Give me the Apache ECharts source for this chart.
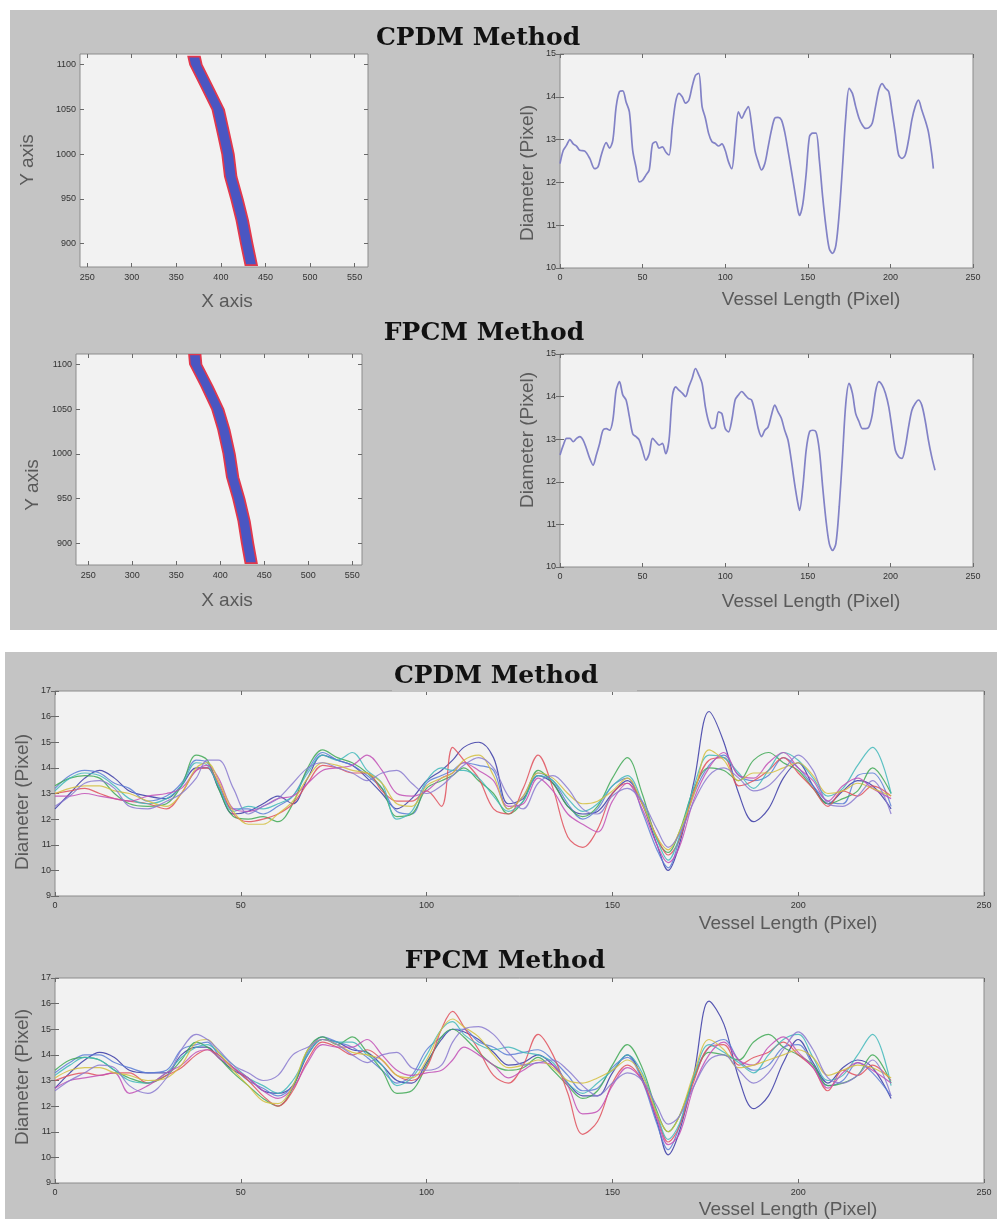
<!DOCTYPE html>
<html>
<head>
<meta charset="utf-8">
<script src="https://cdn.jsdelivr.net/npm/echarts@6/dist/echarts.min.js"></script>
<style>
  html, body { margin: 0; padding: 0; background: #ffffff; }
  #wrap { position: relative; width: 999px; height: 1219px; overflow: hidden; }
  .panel { position: absolute; background: #c4c4c4; }
  #chart { position: absolute; left: 0; top: 0; width: 999px; height: 1219px; }
</style>
</head>
<body>
<div id="wrap">
  <div class="panel" style="left:10px; top:10px; width:987px; height:620px;"></div>
  <div class="panel" style="left:5px; top:652px; width:992px; height:567px;"></div>
  <div id="chart"></div>
</div>
<script>
// ---------- vessel centre-lines (image coordinates) ----------
const cpdmVesselY = [1109, 1100, 1076, 1050, 1023, 1000, 975, 950, 926, 900, 876];
const cpdmVesselX = [370, 372, 384, 397, 403, 408, 411, 418, 424, 429, 434];
const fpcmVesselY = [1111, 1100, 1075, 1050, 1027, 1000, 974, 950, 925, 900, 878];
const fpcmVesselX = [371, 372, 385, 397, 404, 410, 414, 421, 427, 431, 435];
const vesselDiameter = 13;

// ---------- tick values ----------
const vesselXTicks = [250, 300, 350, 400, 450, 500, 550];
const vesselYTicks = [900, 950, 1000, 1050, 1100];
const lengthTicks = [0, 50, 100, 150, 200, 250];
const diaTicksSingle = [10, 11, 12, 13, 14, 15];
const diaTicksMulti = [9, 10, 11, 12, 13, 14, 15, 16, 17];

// ---------- single diameter profiles ----------
const cpdmLen = [0,2,4,6,8,10,12,15,18,21,23,25,28,30,32,34,36,38,40,42,44,46,48,50,52,54,56,58,60,62,64,66,68,70,72,74,76,78,80,82,84,86,88,90,92,94,96,98,100,102,104,106,108,110,112,114,116,118,120,122,124,126,128,130,132,134,136,138,140,142,144,145,147,149,151,153,155,157,159,161,163,165,167,169,171,173,175,177,179,181,183,185,187,189,191,193,195,197,199,201,203,205,207,209,211,213,215,217,219,221,223,225,226];
const cpdmDia = [12.44,12.75,12.87,13.0,12.9,12.85,12.75,12.73,12.56,12.32,12.36,12.64,12.93,12.8,
  12.99,13.77,14.12,14.14,13.88,13.65,12.75,12.36,12.01,12.05,12.17,12.29,12.9,12.95,12.8,12.83,12.71,12.64,13.3,13.88,14.08,14.0,13.85,13.92,14.24,14.5,14.55,13.77,13.5,13.14,12.95,12.91,12.85,12.9,12.75,12.48,12.32,12.99,13.65,13.5,13.65,13.77,13.34,12.75,12.48,12.29,12.44,12.83,13.22,13.5,13.52,13.46,13.18,12.75,12.29,11.82,11.35,
  11.23,
  11.5,12.2,13.07,13.15,13.15,12.52,11.66,10.96,10.45,10.34,10.53,11.27,12.36,13.53,14.2,14.08,13.77,13.5,13.34,13.26,13.28,13.38,13.77,14.16,14.31,14.2,14.12,13.65,13.14,12.64,12.56,12.64,12.99,13.46,13.77,13.92,13.69,13.46,13.18,12.67,
  12.32];

const fpcmLen = [0,2,4,6,8,10,12,14,16,18,20,22,24,26,28,30,32,34,36,38,40,42,44,46,48,50,52,54,56,58,60,62,64,66,68,70,72,74,76,78,80,82,84,86,88,90,92,94,96,98,100,102,104,106,108,110,112,114,116,118,120,122,124,126,128,130,132,134,136,138,140,142,144,145,147,149,151,153,155,157,159,161,163,165,167,169,171,173,175,177,179,181,183,185,187,189,191,193,195,197,199,201,203,205,207,209,211,213,215,217,219,221,223,225,227];
const fpcmDia = [12.63,12.86,13.02,13.02,12.94,13.02,13.06,12.98,12.78,12.55,12.39,12.63,12.9,13.21,13.25,13.21,13.45,14.15,14.35,14.04,13.92,13.53,13.13,13.06,12.98,12.74,12.51,12.66,13.02,12.94,12.86,12.9,12.66,12.98,14.0,14.23,14.15,14.08,14.0,14.23,14.43,14.66,14.51,14.31,13.76,13.41,13.25,13.29,13.64,13.6,13.25,13.17,13.45,13.92,14.04,14.12,14.04,13.96,13.92,13.64,13.25,13.06,13.21,13.29,13.57,13.8,13.64,13.49,13.21,12.98,12.51,11.96,11.49,
  11.33,
  11.88,12.74,13.17,13.21,13.17,12.74,11.88,11.1,10.55,10.39,10.55,11.41,12.59,13.84,14.31,14.08,13.6,13.41,13.25,13.25,13.29,13.57,14.12,14.35,14.27,14.08,13.76,13.25,12.74,12.59,12.55,12.82,13.29,13.68,13.84,13.92,13.8,13.45,12.98,12.59,12.27];

// ---------- repeated measurements (8 runs per method) ----------
const multiLen = [0,4,8,12,16,20,25,30,34,38,41,44,48,52,56,60,64,68,72,76,80,84,88,92,96,100,104,107,110,114,118,122,126,130,134,138,142,146,150,154,158,162,165,168,172,176,180,184,188,192,196,200,204,208,212,216,220,225];

const cpdmRun1 = [12.4,13.0,13.6,13.9,13.6,13.1,12.9,12.8,13.3,14.0, 14.0,13.2,12.2,12.3,12.6,12.9,12.6,13.6,14.5,14.3, 14.1,13.6,13.0,12.4,12.8,13.5,13.9,14.3,14.8,15.0, 14.4,12.6,12.8,13.7,13.4,12.5,12.2,12.3,13.0,13.5, 12.6,11.0,10.0,11.0,13.5,16.2,15.0,13.0,11.9,12.4, 13.6,14.2,13.3,12.6,13.1,13.5,13.3,12.4];
const cpdmRun2 = [13.2,13.7,13.9,13.8,13.4,13.2,12.7,12.9,13.4,14.3, 14.2,13.3,12.4,12.4,12.2,12.5,12.9,13.9,14.6,14.3, 14.1,13.7,13.2,12.3,12.2,13.4,13.7,13.9,14.2,14.1, 13.9,12.4,12.9,13.8,13.5,12.6,12.0,12.4,13.3,13.6, 12.3,10.8,10.1,11.2,13.0,14.1,14.5,13.7,13.5,13.7, 14.4,14.0,13.3,12.7,12.6,13.7,13.8,12.5];
const cpdmRun3 = [13.3,13.6,13.7,13.6,13.0,12.6,12.5,12.6,13.3,14.5, 14.3,13.2,12.1,12.0,12.1,11.9,12.6,14.0,14.7,14.4, 14.2,13.8,13.2,12.1,12.2,13.2,13.5,13.7,14.0,13.5, 13.0,12.2,12.7,13.9,13.4,12.5,12.1,12.5,13.6,14.4, 13.0,11.2,10.7,11.5,13.2,14.0,13.9,13.5,14.3,14.6, 14.2,13.9,13.2,12.6,12.8,13.1,14.0,13.0];
const cpdmRun4 = [13.0,13.1,13.2,13.0,12.8,12.7,12.6,12.4,13.0,13.9, 14.0,13.4,12.2,11.9,12.0,12.2,12.6,13.4,14.1,14.0, 13.8,13.8,13.1,12.7,12.7,13.1,12.5,14.8,14.3,13.6, 12.4,12.2,13.2,14.5,13.2,11.3,10.9,11.6,13.0,13.4, 12.6,11.3,10.6,11.2,13.1,14.3,14.4,13.3,13.5,13.9, 14.4,13.8,13.2,12.5,13.1,12.9,13.3,12.9];
const cpdmRun5 = [13.1,13.6,13.8,13.7,13.3,12.8,12.6,12.8,13.3,14.2, 14.1,13.3,12.3,12.5,12.4,12.6,12.9,13.8,14.5,14.3, 14.6,13.9,13.4,12.0,12.3,13.5,14.0,13.9,13.9,13.6, 12.9,12.3,12.7,13.7,13.5,12.8,12.3,12.6,13.3,13.7, 12.7,11.2,10.4,11.3,13.3,14.5,14.4,13.8,13.2,13.9, 14.6,14.3,13.6,12.9,13.2,14.1,14.8,13.0];
const cpdmRun6 = [12.9,12.9,13.0,12.9,12.8,12.7,12.9,13.0,13.2,13.9, 14.1,13.6,12.4,12.3,12.5,12.8,12.9,13.4,13.9,14.0, 14.1,14.5,13.9,13.0,12.9,13.1,13.6,13.8,14.2,13.9, 13.5,12.5,12.6,13.6,13.1,12.2,11.8,11.5,12.7,13.4, 12.4,11.0,10.3,10.9,12.8,14.0,14.6,13.7,13.6,14.2, 14.6,14.0,13.5,12.7,13.3,13.6,13.2,12.8];
const cpdmRun7 = [13.0,13.2,13.3,13.3,13.1,13.0,12.7,12.5,13.0,14.0, 14.2,13.5,12.3,11.8,11.8,12.2,12.7,13.6,14.2,14.1, 13.9,13.8,13.4,12.6,12.5,13.3,13.6,13.8,14.3,14.5, 13.7,12.4,12.9,13.8,13.6,13.0,12.6,12.7,13.1,13.6, 12.6,11.3,10.8,11.5,13.0,14.7,14.3,13.5,13.8,13.8, 14.0,14.2,13.7,13.0,13.1,13.4,13.2,12.9];
const cpdmRun8 = [12.5,12.9,13.4,13.5,13.2,12.5,12.4,12.7,13.0,13.6, 14.3,14.3,13.2,12.2,12.5,12.8,13.4,14.0,14.2,14.0, 13.8,13.5,13.8,13.9,13.4,13.0,13.3,13.7,14.1,14.4, 14.0,12.9,12.4,13.4,13.7,13.2,12.4,12.2,12.9,13.2, 12.7,11.6,10.9,11.4,12.7,13.7,14.0,13.6,13.1,13.3, 13.9,14.5,13.9,12.6,12.5,12.9,13.5,12.2];

const fpcmRun1 = [12.7,13.3,13.8,14.1,13.9,13.4,13.3,13.3,14.0,14.3, 14.3,13.9,13.4,13.1,12.6,12.5,12.8,14.0,14.6,14.5, 14.2,14.1,13.6,13.0,12.9,13.7,14.6,15.0,14.9,14.6, 14.1,13.6,13.7,14.0,13.6,12.9,12.4,12.4,13.3,14.0, 13.1,11.4,10.1,11.0,13.3,16.1,15.2,13.1,11.9,12.4, 13.7,14.6,13.7,12.9,13.5,13.8,13.5,12.3];
const fpcmRun2 = [13.3,13.7,14.0,14.0,13.7,13.5,13.3,13.4,14.2,14.4, 14.5,14.0,13.5,13.0,12.7,12.4,12.8,14.1,14.7,14.5, 14.3,13.9,13.4,12.9,13.2,14.2,14.7,15.0,15.0,14.5, 14.3,14.0,14.1,14.2,13.8,13.2,12.6,12.7,13.5,13.9, 13.0,11.3,10.3,11.2,13.2,14.3,14.6,13.8,13.4,13.6, 14.3,14.4,13.6,12.8,13.0,13.7,13.3,12.4];
const fpcmRun3 = [13.4,13.8,13.9,13.8,13.4,13.1,12.9,13.2,13.8,14.5, 14.3,13.9,13.3,12.8,12.3,12.0,12.7,14.2,14.7,14.4, 14.7,14.1,13.4,12.5,12.6,13.6,14.7,15.0,14.7,14.1, 13.6,13.4,13.5,13.9,13.4,12.8,12.3,12.6,13.6,14.4, 13.5,11.8,11.0,11.6,13.1,14.1,14.0,13.8,14.5,14.8, 14.3,14.0,13.6,12.8,12.9,13.2,14.0,12.9];
const fpcmRun4 = [13.0,13.2,13.3,13.2,13.3,13.3,12.9,13.2,13.5,14.0, 14.2,14.0,13.5,13.0,12.4,12.0,12.6,13.8,14.5,14.3, 14.0,14.2,13.8,13.2,13.0,13.5,15.0,15.7,15.1,14.2, 13.2,12.9,13.6,14.8,14.0,12.5,10.9,11.4,12.9,13.6, 13.0,11.6,10.6,11.2,13.0,14.3,14.4,13.6,13.9,14.1, 14.5,14.0,13.5,12.6,13.4,13.2,13.6,13.0];
const fpcmRun5 = [13.2,13.6,13.9,13.8,13.4,13.0,12.9,13.3,13.9,14.3, 14.4,14.1,13.6,13.1,12.8,12.5,13.0,14.0,14.6,14.5, 14.5,14.0,13.6,12.8,13.1,14.0,15.0,15.3,14.8,14.4, 14.2,14.3,14.1,14.0,13.7,12.9,12.5,12.9,13.4,14.0, 13.3,11.7,10.7,11.3,13.2,14.4,14.1,13.7,13.3,14.0, 14.6,14.8,13.9,13.0,13.2,14.0,14.8,12.8];
const fpcmRun6 = [12.7,13.0,13.1,13.2,13.3,12.5,12.8,13.3,13.6,14.1, 14.2,13.9,13.5,13.1,12.6,12.3,12.7,13.7,14.4,14.3, 14.3,14.6,14.0,13.4,13.2,13.3,13.4,13.8,14.3,14.0, 13.6,13.1,13.4,13.7,13.6,12.8,11.7,11.8,12.8,13.5, 13.0,11.5,10.5,10.9,12.8,14.0,14.5,13.8,13.6,14.3, 14.7,14.1,13.5,12.7,13.3,13.7,13.4,12.9];
const fpcmRun7 = [13.1,13.4,13.5,13.5,13.3,13.2,13.0,13.1,13.6,14.5, 14.6,14.1,13.4,12.8,12.2,12.1,12.8,14.2,14.6,14.4, 14.1,14.0,13.8,13.2,13.1,13.8,15.0,15.4,15.1,14.7, 14.0,13.5,13.6,13.8,13.5,13.0,12.9,13.1,13.4,13.8, 13.2,11.7,11.0,11.6,13.3,14.6,14.2,13.5,13.6,13.8, 14.0,14.2,13.9,13.2,13.4,13.6,13.5,13.1];
const fpcmRun8 = [12.6,13.0,13.3,13.6,13.5,12.8,12.5,13.1,14.2,14.8, 14.6,14.2,13.6,13.3,13.0,13.2,14.0,14.3,14.6,14.4, 14.0,13.7,14.0,14.1,13.5,13.4,13.6,14.5,15.0,15.1, 14.8,14.1,13.6,13.7,13.8,13.4,12.8,12.4,12.9,13.3, 13.0,12.0,11.3,11.6,12.8,13.8,14.0,13.4,12.9,13.3, 14.2,14.9,14.2,13.1,12.9,13.2,13.8,12.4];

// ---------- drawing ----------
const runColors = ['#3a3aa6', '#5a7ed6', '#3fa955', '#e0505c', '#42b9bb', '#c24fb6', '#d4c040', '#8a7ad0'];
const labelFont = 'Liberation Sans, Arial, sans-serif';
const plainNumber = function (v) { return String(v); };

const tickStyle = { show: true, inside: true, length: 4, lineStyle: { color: '#6a6a6a', width: 1 } };

function xAxes(grid, min, max, ticks, margin) {
  return [
    { type: 'value', gridIndex: grid, min: min, max: max, position: 'bottom',
      axisLine: { show: false }, splitLine: { show: false },
      axisTick: Object.assign({ customValues: ticks }, tickStyle),
      axisLabel: { customValues: ticks, formatter: plainNumber, fontSize: 9, color: '#333', margin: margin, fontFamily: labelFont } },
    { type: 'value', gridIndex: grid, min: min, max: max, position: 'top',
      axisLine: { show: false }, splitLine: { show: false },
      axisTick: Object.assign({ customValues: ticks }, tickStyle),
      axisLabel: { show: false } }
  ];
}
function yAxes(grid, min, max, ticks, margin) {
  return [
    { type: 'value', gridIndex: grid, min: min, max: max, position: 'left',
      axisLine: { show: false }, splitLine: { show: false },
      axisTick: Object.assign({ customValues: ticks }, tickStyle),
      axisLabel: { customValues: ticks, formatter: plainNumber, fontSize: 9, color: '#333', margin: margin, fontFamily: labelFont } },
    { type: 'value', gridIndex: grid, min: min, max: max, position: 'right',
      axisLine: { show: false }, splitLine: { show: false },
      axisTick: Object.assign({ customValues: ticks }, tickStyle),
      axisLabel: { show: false } }
  ];
}

function gridBox(left, top, width, height) {
  return { left: left, top: top, width: width, height: height, show: true,
    backgroundColor: '#f2f2f2', borderColor: '#8c8c8c', borderWidth: 1 };
}

function pairs(xs, ys) {
  const n = Math.min(xs.length, ys.length);
  const out = [];
  for (let i = 0; i < n; i++) out.push([xs[i], ys[i]]);
  return out;
}

function vesselSeries(grid, xs, ys) {
  const half = vesselDiameter / 2;
  return {
    type: 'custom', xAxisIndex: grid * 2, yAxisIndex: grid * 2, clip: true, silent: true,
    data: [[xs[0], ys[0]]],
    renderItem: function (params, api) {
      const pts = [];
      for (let i = 0; i < ys.length; i++) pts.push(api.coord([xs[i] - half, ys[i]]));
      for (let i = ys.length - 1; i >= 0; i--) pts.push(api.coord([xs[i] + half, ys[i]]));
      return { type: 'polygon', shape: { points: pts },
        style: { fill: '#4a56c2', stroke: '#e2384c', lineWidth: 1.8 } };
    }
  };
}

function singleSeries(grid, xs, ys) {
  return { type: 'line', xAxisIndex: grid * 2, yAxisIndex: grid * 2, data: pairs(xs, ys),
    showSymbol: false, smooth: 0.3, silent: true,
    lineStyle: { color: '#8282c6', width: 1.7 } };
}

function runSeries(grid, runs) {
  return runs.map(function (r, k) {
    return { type: 'line', xAxisIndex: grid * 2, yAxisIndex: grid * 2, data: pairs(multiLen, r),
      showSymbol: false, smooth: 0.35, silent: true,
      lineStyle: { color: runColors[k], width: 1.2, opacity: 0.85 } };
  });
}

function axisTitle(text, x, y, vertical) {
  return { type: 'text', x: x, y: y, rotation: vertical ? Math.PI / 2 : 0, z: 100, silent: true,
    style: { text: text, font: '19px "Liberation Sans", Arial, sans-serif', fill: '#5a5a5a',
      align: 'center', verticalAlign: 'middle' } };
}
function plotTitle(text, x, y) {
  return { type: 'text', x: x, y: y, z: 101, silent: true,
    style: { text: text, font: 'bold 25px "DejaVu Serif", serif', fill: '#111111',
      align: 'center', verticalAlign: 'middle' } };
}

const chart = echarts.init(document.getElementById('chart'), null, { renderer: 'canvas' });

const option = {
  backgroundColor: 'transparent',
  animation: false,
  grid: [
    gridBox(80, 54, 288, 213),
    gridBox(560, 54, 413, 214),
    gridBox(76, 354, 286, 211),
    gridBox(560, 354, 413, 213),
    gridBox(55, 691, 929, 205),
    gridBox(55, 978, 929, 205)
  ],
  xAxis: [].concat(
    xAxes(0, 242, 565, vesselXTicks, 6),
    xAxes(1, 0, 250, lengthTicks, 5),
    xAxes(2, 236, 561, vesselXTicks, 6),
    xAxes(3, 0, 250, lengthTicks, 5),
    xAxes(4, 0, 250, lengthTicks, 5),
    xAxes(5, 0, 250, lengthTicks, 5)
  ),
  yAxis: [].concat(
    yAxes(0, 874, 1112, vesselYTicks, 4),
    yAxes(1, 10, 15, diaTicksSingle, 4),
    yAxes(2, 876, 1111.5, vesselYTicks, 4),
    yAxes(3, 10, 15, diaTicksSingle, 4),
    yAxes(4, 9, 17, diaTicksMulti, 4),
    yAxes(5, 9, 17, diaTicksMulti, 4)
  ),
  series: [].concat(
    [vesselSeries(0, cpdmVesselX, cpdmVesselY)],
    [singleSeries(1, cpdmLen, cpdmDia)],
    [vesselSeries(2, fpcmVesselX, fpcmVesselY)],
    [singleSeries(3, fpcmLen, fpcmDia)],
    runSeries(4, [cpdmRun1, cpdmRun2, cpdmRun3, cpdmRun4, cpdmRun5, cpdmRun6, cpdmRun7, cpdmRun8]),
    runSeries(5, [fpcmRun1, fpcmRun2, fpcmRun3, fpcmRun4, fpcmRun5, fpcmRun6, fpcmRun7, fpcmRun8])
  ),
  graphic: [
    { type: 'rect', z: 99, silent: true, shape: { x: 392, y: 658, width: 245, height: 34 },
      style: { fill: '#c4c4c4' } },
    plotTitle('CPDM Method', 478, 38),
    plotTitle('FPCM Method', 484, 333),
    plotTitle('CPDM Method', 496, 676),
    plotTitle('FPCM Method', 505, 961),
    axisTitle('Y axis', 28, 160, true),
    axisTitle('X axis', 227, 302, false),
    axisTitle('Diameter (Pixel)', 528, 173, true),
    axisTitle('Vessel Length (Pixel)', 811, 300, false),
    axisTitle('Y axis', 33, 485, true),
    axisTitle('X axis', 227, 601, false),
    axisTitle('Diameter (Pixel)', 528, 440, true),
    axisTitle('Vessel Length (Pixel)', 811, 602, false),
    axisTitle('Diameter (Pixel)', 23, 802, true),
    axisTitle('Vessel Length (Pixel)', 788, 924, false),
    axisTitle('Diameter (Pixel)', 23, 1077, true),
    axisTitle('Vessel Length (Pixel)', 788, 1210, false)
  ]
};

chart.setOption(option);
</script>
</body>
</html>
